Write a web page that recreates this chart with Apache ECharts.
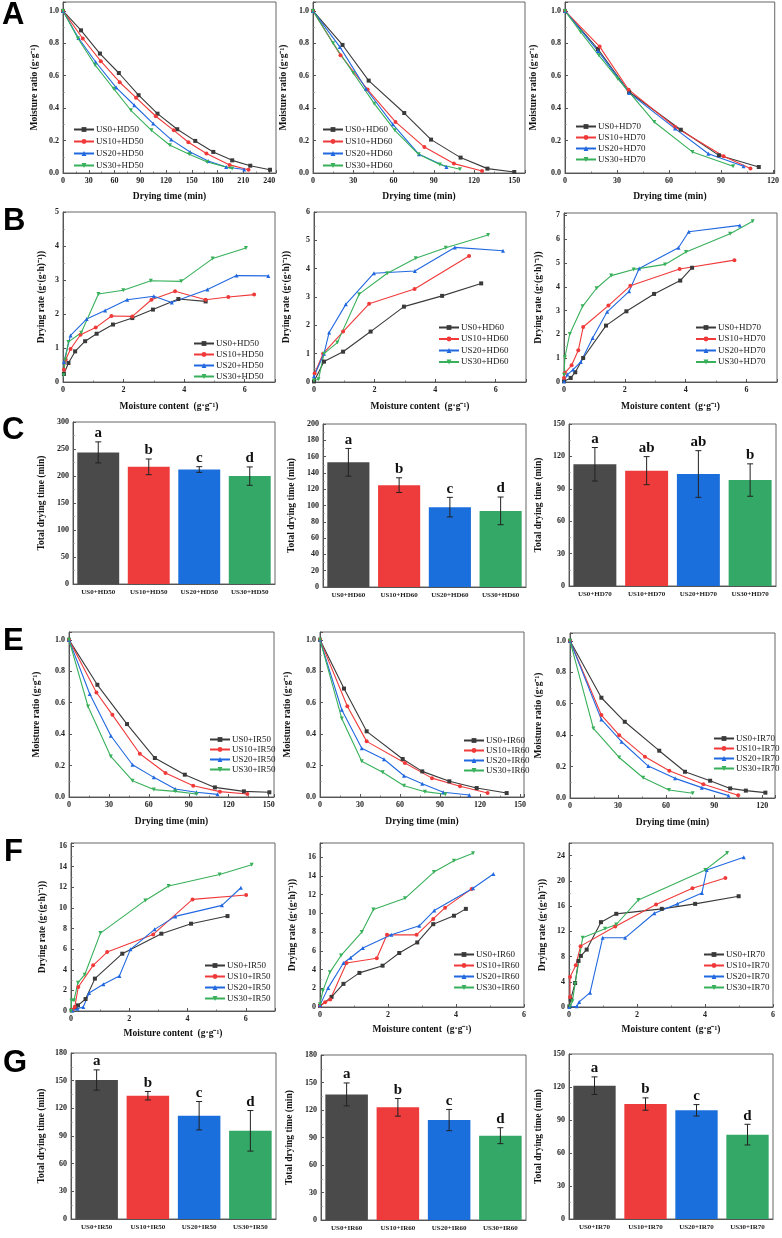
<!DOCTYPE html>
<html>
<head>
<meta charset="utf-8">
<script src="https://cdn.jsdelivr.net/npm/echarts@6/dist/echarts.min.js"></script>
<style>
  html, body { margin: 0; padding: 0; background: #fff; }
  #main { width: 782px; height: 1238px; }
</style>
</head>
<body>
<div id="main"></div>
<script>
// series order in every panel: US0, US10, US20, US30
const usLevels = ['US0', 'US10', 'US20', 'US30']

// A: moisture ratio vs drying time, hot air
const mrHD50 = [
  [[0,1],[21,0.88],[43,0.737],[65,0.617],[88,0.48],[110,0.366],[133,0.27],[154,0.198],[175,0.13],[197,0.078],[218,0.045],[241,0.02]],
  [[0,1],[23,0.83],[44,0.69],[66,0.56],[85,0.465],[108,0.35],[129,0.263],[146,0.19],[167,0.12],[194,0.05],[216,0.02]],
  [[0,1],[18,0.833],[38,0.685],[62,0.527],[83,0.418],[105,0.305],[126,0.206],[148,0.13],[169,0.074],[190,0.037],[211,0.022]],
  [[0,1],[17.5,0.83],[37.5,0.665],[59,0.52],[79,0.387],[103,0.263],[124.5,0.171],[147,0.115],[168,0.068],[197,0.027]]
]
const mrHD60 = [
  [[0,1],[22,0.79],[41.5,0.57],[68,0.37],[88,0.206],[110,0.095],[130,0.027],[150,0.006]],
  [[0,1],[20.5,0.727],[40.7,0.515],[61.5,0.315],[83,0.16],[105,0.058],[126,0.012]],
  [[0,1],[20,0.778],[39.5,0.52],[59.5,0.30],[79,0.115],[99.5,0.037]],
  [[0,1],[15,0.80],[30,0.617],[45.7,0.428],[61,0.263],[78.7,0.115],[94.5,0.052],[109.5,0.023]]
]
const mrHD70 = [
  [[0,1],[19,0.765],[37,0.5],[66.8,0.267],[88.8,0.109],[111.8,0.037]],
  [[0,1],[20,0.78],[36.7,0.514],[63.5,0.284],[91.5,0.103],[107,0.027]],
  [[0,1],[19,0.753],[37,0.494],[63.5,0.274],[82.7,0.119],[103,0.041]],
  [[0,1],[9,0.87],[19.5,0.726],[30.4,0.582],[51.5,0.315],[73.5,0.13],[97,0.041]]
]

// B: drying rate vs moisture content, hot air
const drHD50 = [
  [[0.03,0.235],[0.18,0.56],[0.4,0.9],[0.73,1.2],[1.11,1.42],[1.65,1.69],[2.29,1.88],[2.97,2.13],[3.81,2.44],[4.71,2.37]],
  [[0.03,0.36],[0.09,0.66],[0.25,0.97],[0.58,1.39],[1.08,1.6],[1.6,1.94],[2.29,1.93],[2.92,2.42],[3.7,2.67],[4.71,2.42],[5.46,2.5],[6.31,2.57]],
  [[0.03,0.59],[0.25,1.37],[0.78,1.85],[1.39,2.1],[2.12,2.42],[3.0,2.52],[3.59,2.34],[4.77,2.72],[5.73,3.13],[6.78,3.12]],
  [[0.02,0.2],[0.07,0.66],[0.18,1.18],[0.6,1.45],[1.17,2.59],[1.99,2.7],[2.9,2.98],[3.9,2.96],[4.94,3.63],[6.04,3.94]]
]
const drHD60 = [
  [[0,0.02],[0.33,0.72],[0.96,1.07],[1.87,1.78],[2.97,2.66],[4.23,3.04],[5.52,3.48]],
  [[0.02,0.3],[0.3,1.0],[0.96,1.78],[1.82,2.76],[3.32,3.28],[5.12,4.45]],
  [[0,0.2],[0.33,1.0],[0.5,1.75],[1.05,2.74],[1.98,3.84],[3.33,3.92],[4.65,4.75],[6.24,4.63]],
  [[0,0.05],[0.15,0.1],[0.33,1.0],[0.77,1.39],[1.49,3.1],[2.42,3.84],[3.36,4.37],[4.35,4.74],[5.75,5.19]]
]
const drHD70 = [
  [[0,0.03],[0.22,0.17],[0.37,0.41],[0.63,1.01],[1.38,2.37],[2.05,2.97],[2.96,3.7],[3.82,4.26],[4.21,4.8]],
  [[0,0.17],[0.03,0.38],[0.25,0.7],[0.47,1.33],[0.63,2.31],[1.46,3.21],[2.18,4.04],[3.8,4.75],[5.6,5.12]],
  [[0,0.03],[0.11,0.31],[0.3,0.52],[0.55,0.84],[0.94,1.85],[1.42,2.95],[2.14,3.81],[2.47,4.77],[3.76,5.64],[4.1,6.31],[5.78,6.58]],
  [[0,0.3],[0.03,1.04],[0.19,2.02],[0.61,3.18],[1.07,3.94],[1.55,4.47],[2.29,4.73],[3.32,4.94],[4.01,5.46],[5.46,6.23],[6.2,6.75]]
]

// C / G: total drying time (mean, error, letters)
const timeHD50 = [243.7, 217, 212, 199.8]
const errHD50 = [19.5, 14.5, 5.3, 17]
const sigHD50 = ['a', 'b', 'c', 'd']
const timeHD60 = [153, 125, 98, 93.4]
const errHD60 = [17, 9, 12, 17]
const sigHD60 = ['a', 'b', 'c', 'd']
const timeHD70 = [112.7, 106.8, 103.7, 98.1]
const errHD70 = [15.5, 13, 21.6, 15]
const sigHD70 = ['a', 'ab', 'ab', 'b']

// E: moisture ratio vs drying time, infrared
const mrIR50 = [
  [[0,1],[21.3,0.714],[43.6,0.464],[64.5,0.248],[87,0.142],[109.6,0.061],[131.4,0.036],[150.5,0.03]],
  [[0,1],[20.6,0.665],[32.6,0.523],[53.2,0.275],[72.5,0.153],[93.3,0.072],[113.4,0.034],[134,0.019]],
  [[0,1],[15.6,0.655],[31.4,0.39],[47.7,0.205],[63.7,0.125],[79.8,0.051],[95.8,0.03],[111.6,0.017]],
  [[0,1],[14.3,0.576],[31.4,0.258],[47.7,0.104],[63.7,0.047],[79.8,0.036],[95.8,0.019]]
]
const mrIR60 = [
  [[0,1],[18,0.69],[35,0.418],[62,0.242],[76.7,0.163],[97,0.1],[117.5,0.057],[140,0.025]],
  [[0,1],[20.5,0.577],[35,0.354],[63.7,0.216],[84,0.12],[105,0.068],[125.7,0.025]],
  [[0,1],[16.3,0.555],[31.3,0.31],[48,0.24],[63,0.135],[76.7,0.085],[92.5,0.03],[112,0.013]],
  [[0,1],[16.3,0.50],[31.3,0.227],[47,0.157],[63,0.072],[78.7,0.034],[94,0.017]]
]
const mrIR70 = [
  [[0,1],[19.6,0.638],[34.2,0.485],[55.7,0.301],[71.8,0.167],[87.5,0.11],[100,0.061],[109.8,0.047],[122,0.034]],
  [[0,1],[19.6,0.528],[30.7,0.40],[46.8,0.263],[62,0.174],[83.3,0.087],[105,0.017]],
  [[0,1],[19.6,0.5],[32.2,0.358],[48.9,0.203],[65.6,0.125],[82.3,0.066],[99,0.015]],
  [[0,1],[14.6,0.443],[30.7,0.258],[45.7,0.129],[61.8,0.051],[76.6,0.03]]
]

// F: drying rate vs moisture content, infrared
const drIR50 = [
  [[0.02,0.06],[0.16,0.39],[0.24,0.55],[0.5,1.16],[0.82,3.14],[1.76,5.56],[3.1,7.5],[4.12,8.47],[5.37,9.21]],
  [[0.05,0.13],[0.13,0.4],[0.25,2.33],[0.76,4.43],[1.24,5.72],[2.82,7.43],[4.17,10.83],[6.01,11.25]],
  [[0.05,0.06],[0.22,0.23],[0.42,0.39],[0.62,1.75],[1.11,2.59],[1.66,3.39],[2.04,5.98],[2.87,7.92],[3.58,9.18],[5.18,10.25],[5.83,11.96]],
  [[0,0],[0.02,1.03],[0.1,1.03],[0.24,2.75],[0.47,3.52],[1.01,7.56],[2.55,10.73],[3.35,12.12],[5.1,13.25],[6.2,14.19]]
]
const drIR60 = [
  [[0,0.1],[0.34,1.08],[0.69,2.47],[1.16,3.64],[1.84,4.41],[2.33,5.76],[2.86,6.89],[3.33,8.84],[3.94,9.74],[4.29,10.47]],
  [[0,0.1],[0.15,0.5],[0.3,0.8],[0.78,4.7],[1.67,5.2],[1.97,7.7],[2.84,7.7],[3.33,9.4],[3.68,10.6],[4.46,12.6]],
  [[0,0.2],[0.24,2.04],[0.69,4.7],[0.9,5.26],[1.26,6.29],[2.1,7.7],[2.92,8.66],[3.36,10.29],[4.5,12.67],[5.1,14.19]],
  [[0,0.3],[0.08,1.7],[0.29,3.7],[0.62,5.5],[1.23,8.0],[1.57,10.4],[2.5,11.6],[3.35,14.4],[3.94,15.6],[4.5,16.4]]
]
const drIR70 = [
  [[0.01,0.1],[0.05,1.2],[0.18,3.8],[0.28,7.3],[0.35,8.1],[0.52,9.1],[0.94,13.45],[1.39,14.77],[2.73,15.56],[3.71,16.35],[4.99,17.56]],
  [[0.03,1.6],[0.03,4.75],[0.2,6.6],[0.34,9.65],[1.36,12.76],[2.56,16.24],[3.63,18.83],[4.6,20.46]],
  [[0.01,0],[0.23,0.1],[0.3,0.8],[0.62,2.27],[0.99,10.97],[1.65,10.97],[2.51,14.87],[3.19,16.35],[3.91,18.09],[4.05,21.73],[5.14,23.73]],
  [[0.03,0.1],[0.1,0.9],[0.18,3.7],[0.4,10.97],[1.06,12.39],[1.39,13.08],[2.04,16.98],[4.01,21.73],[4.65,24.42]]
]

const timeIR50 = [150.7, 133.7, 112, 95.6]
const errIR50 = [11, 4.6, 15.4, 22]
const sigIR50 = ['a', 'b', 'c', 'd']
const timeIR60 = [137, 122.9, 109, 92]
const errIR60 = [12.5, 9.6, 11.6, 8.7]
const sigIR60 = ['a', 'b', 'c', 'd']
const timeIR70 = [121.2, 104.5, 98.8, 76.7]
const errIR70 = [8, 5.6, 5.2, 9.4]
const sigIR70 = ['a', 'b', 'c', 'd']

const SERIF = '"Liberation Serif", "Times New Roman", serif'
const lineColors = ['#3a3a3a', '#f03a3a', '#2168e0', '#38b05a']
const barColors = ['#4a4a4a', '#ee3b3b', '#1b6fdc', '#33a867']
const symbols = ['rect', 'circle', 'triangle', 'path://M0,0L10,0L5,9Z']

const grids = []
const xAxes = []
const yAxes = []
const series = []
const legends = []

function valueAxis(gi, o) {
  return {
    type: 'value',
    gridIndex: gi,
    min: 0,
    max: o.max,
    interval: o.interval,
    name: o.name,
    nameLocation: 'middle',
    nameGap: o.gap,
    nameTextStyle: { fontFamily: SERIF, fontWeight: 'bold', fontSize: 9.5, color: '#111' },
    axisLine: { show: true, onZero: false, lineStyle: { color: '#555', width: 1 } },
    axisTick: { show: true, inside: true, length: 3, lineStyle: { color: '#555' } },
    minorTick: { show: true, splitNumber: 2, length: 1.5, lineStyle: { color: '#777' } },
    splitLine: { show: false },
    axisLabel: {
      fontFamily: SERIF, fontWeight: 'bold', fontSize: 8, color: '#222', margin: 4,
      showMaxLabel: o.showMax ? true : false,
      formatter: o.fmt,
    },
  }
}

function addGrid(box) {
  grids.push({ left: box[0], top: box[1], width: box[2], height: box[3], show: true, borderColor: '#666', borderWidth: 1 })
  return grids.length - 1
}

function linePanel(box, data, cond, x, y, leg) {
  const gi = addGrid(box)
  xAxes.push(valueAxis(gi, x))
  yAxes.push(valueAxis(gi, y))
  const names = usLevels.map(u => `${u}+${cond}`)
  data.forEach((pts, i) => {
    series.push({
      type: 'line',
      name: names[i],
      xAxisIndex: gi,
      yAxisIndex: gi,
      data: pts,
      symbol: symbols[i],
      symbolSize: 4,
      lineStyle: { width: 1.1, color: lineColors[i] },
      itemStyle: { color: lineColors[i] },
    })
  })
  legends.push({
    orient: 'vertical', left: leg[0], top: leg[1], padding: 0,
    itemWidth: 20, itemHeight: 6, itemGap: leg[2],
    data: names,
    textStyle: { fontFamily: SERIF, fontSize: 9, color: '#222', padding: [0, 0, 0, -3] },
  })
}

function barPanel(box, means, errs, sigs, cond, y) {
  const gi = addGrid(box)
  const cats = usLevels.map(u => `${u}+${cond}`)
  xAxes.push({
    type: 'category', gridIndex: gi, data: cats,
    axisLine: { show: true, onZero: false, lineStyle: { color: '#555' } },
    axisTick: { show: false },
    axisLabel: { fontFamily: SERIF, fontWeight: 'bold', fontSize: 7, color: '#222', margin: 5, interval: 0 },
  })
  yAxes.push(valueAxis(gi, y))
  series.push({
    type: 'bar', xAxisIndex: gi, yAxisIndex: gi, barCategoryGap: '17%',
    data: means.map((v, i) => ({ value: v, itemStyle: { color: barColors[i] } })),
  })
  series.push({
    type: 'custom', xAxisIndex: gi, yAxisIndex: gi, z: 10,
    data: means.map((v, i) => [i, v, errs[i]]),
    renderItem: (params, api) => {
      const i = api.value(0), m = api.value(1), e = api.value(2)
      const top = api.coord([i, m + e])
      const bot = api.coord([i, m - e])
      const cap = 3
      const ln = (x1, y1, x2, y2) => ({ type: 'line', shape: { x1, y1, x2, y2 }, style: { stroke: '#222', lineWidth: 1 } })
      return {
        type: 'group',
        children: [
          ln(top[0], top[1], bot[0], bot[1]),
          ln(top[0] - cap, top[1], top[0] + cap, top[1]),
          ln(bot[0] - cap, bot[1], bot[0] + cap, bot[1]),
          {
            type: 'text',
            style: {
              text: sigs[params.dataIndex], x: top[0], y: top[1] - 1,
              align: 'center', verticalAlign: 'bottom',
              font: `bold 15px ${SERIF}`, fill: '#111',
            },
          },
        ],
      }
    },
  })
}

const fmt1 = v => v.toFixed(1)
const mrName = 'Moisture ratio (g·g⁻¹)'
const drName = 'Drying rate (g·(g·h)⁻¹))'
const tName = 'Drying time (min)'
const mcName = 'Moisture content  (g·g⁻¹)'
const ttName = 'Total drying time (min)'

// row A
linePanel([63, 2, 213, 171], mrHD50, 'HD50', { max: 248, interval: 30, name: tName, gap: 19 }, { max: 1.055, interval: 0.2, fmt: fmt1, name: mrName, gap: 23 }, [73, 125, 3])
linePanel([313, 2, 212, 171], mrHD60, 'HD60', { max: 158, interval: 30, name: tName, gap: 19 }, { max: 1.055, interval: 0.2, fmt: fmt1, name: mrName, gap: 24 }, [322, 125, 3])
linePanel([565, 2, 211, 171], mrHD70, 'HD70', { max: 121, interval: 30, name: tName, gap: 19 }, { max: 1.055, interval: 0.2, fmt: fmt1, name: mrName, gap: 26 }, [575, 122, 2])
// row B
linePanel([63, 212, 212, 170], drHD50, 'HD50', { max: 7, interval: 2, name: mcName, gap: 20 }, { max: 5, interval: 1, showMax: true, name: drName, gap: 16 }, [193, 339, 2])
linePanel([314, 212, 212, 170], drHD60, 'HD60', { max: 7, interval: 2, name: mcName, gap: 20 }, { max: 6, interval: 1, showMax: true, name: drName, gap: 22 }, [438, 323, 2.5])
linePanel([564, 213, 213, 169], drHD70, 'HD70', { max: 7, interval: 2, name: mcName, gap: 20 }, { max: 7.1, interval: 1, name: drName, gap: 20 }, [695, 323, 2.5])
// row C
barPanel([73, 422, 202, 162], timeHD50, errHD50, sigHD50, 'HD50', { max: 300, interval: 50, showMax: true, name: ttName, gap: 26 })
barPanel([323, 424, 203, 163], timeHD60, errHD60, sigHD60, 'HD60', { max: 200, interval: 20, showMax: true, name: ttName, gap: 26 })
barPanel([569, 424, 207, 162], timeHD70, errHD70, sigHD70, 'HD70', { max: 150, interval: 30, showMax: true, name: ttName, gap: 25 })
// row E
linePanel([69, 632, 205, 165], mrIR50, 'IR50', { max: 154, interval: 30, name: tName, gap: 20 }, { max: 1.05, interval: 0.2, fmt: fmt1, name: mrName, gap: 27 }, [209, 735, 1])
linePanel([320, 632, 204, 165], mrIR60, 'IR60', { max: 153, interval: 30, name: tName, gap: 20 }, { max: 1.05, interval: 0.2, fmt: fmt1, name: mrName, gap: 27 }, [463, 736, 1])
linePanel([570, 633, 205, 165], mrIR70, 'IR70', { max: 128, interval: 30, name: tName, gap: 20 }, { max: 1.05, interval: 0.2, fmt: fmt1, name: mrName, gap: 26 }, [713, 734, 1])
// row F
linePanel([71, 843, 204, 168], drIR50, 'IR50', { max: 7, interval: 2, name: mcName, gap: 18 }, { max: 16.3, interval: 2, name: drName, gap: 23 }, [204, 961, 2])
linePanel([320, 843, 204, 164], drIR60, 'IR60', { max: 6, interval: 2, showMax: true, name: mcName, gap: 18 }, { max: 17.5, interval: 2, name: drName, gap: 22 }, [453, 950, 2])
linePanel([569, 843, 204, 164], drIR70, 'IR70', { max: 6, interval: 2, showMax: true, name: mcName, gap: 18 }, { max: 26, interval: 4, name: drName, gap: 21 }, [703, 950, 2])
// row G
barPanel([71, 1053, 205, 166], timeIR50, errIR50, sigIR50, 'IR50', { max: 180, interval: 30, showMax: true, name: ttName, gap: 24 })
barPanel([321, 1055, 205, 165], timeIR60, errIR60, sigIR60, 'IR60', { max: 180, interval: 30, showMax: true, name: ttName, gap: 26 })
barPanel([569, 1054, 204, 165], timeIR70, errIR70, sigIR70, 'IR70', { max: 150, interval: 30, showMax: true, name: ttName, gap: 25 })

const panelLetters = [['A', 2, 15], ['B', 3, 221], ['C', 2, 430], ['E', 3, 641], ['F', 4, 852], ['G', 3, 1063]]

const chart = echarts.init(document.getElementById('main'))
chart.setOption({
  animation: false,
  backgroundColor: '#fff',
  grid: grids,
  xAxis: xAxes,
  yAxis: yAxes,
  legend: legends,
  series: series,
  graphic: panelLetters.map(([t, x, y]) => ({
    type: 'text',
    x: x,
    y: y,
    style: { text: t, font: 'bold 31px "Liberation Sans", Arial, sans-serif', fill: '#000', verticalAlign: 'middle' },
  })),
})
</script>
</body>
</html>
